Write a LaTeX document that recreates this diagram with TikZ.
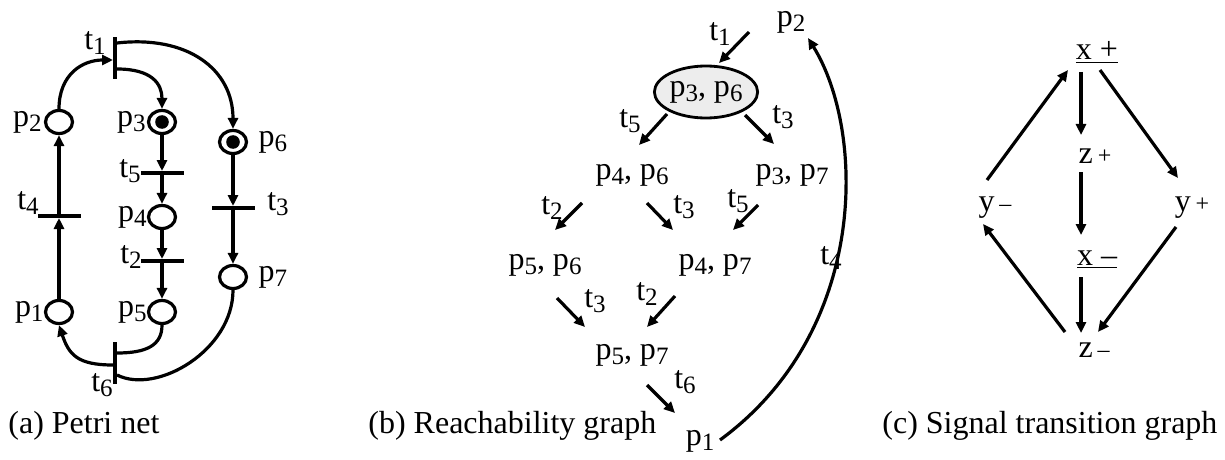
\documentclass[tikz,border=0pt]{standalone}
\usepackage{fontspec}
\setmainfont{Liberation Serif}
\usetikzlibrary{arrows.meta,positioning,shapes.geometric}
\newcommand{\idx}[1]{\raisebox{-0.16em}{\fontsize{12.5}{14}\selectfont #1}}
\newcommand{\plc}[1]{p\idx{#1}}
\newcommand{\trn}[1]{t\idx{#1}}
\newcommand{\sgn}[1]{\hspace{-0.1em}{\fontsize{12}{14}\selectfont #1}}
\tikzset{
    place/.style={ellipse,draw,line width=1.6pt,minimum width=13.5pt,minimum height=11.5pt,inner sep=0pt},
    marked/.style={place,path picture={\fill (path picture bounding box.center) circle (3.4pt);}},
    vbar/.style={rectangle,fill,inner sep=0pt,minimum width=1.6pt,minimum height=21pt},
    hbar/.style={rectangle,fill,inner sep=0pt,minimum width=21.5pt,minimum height=1.6pt},
    lab/.style={inner sep=0pt},
    state/.style={inner sep=0pt},
    initstate/.style={ellipse,draw,line width=1.4pt,fill=black!7,minimum width=44pt,minimum height=26pt,inner sep=0pt},
    signal/.style={inner sep=0pt,anchor=base},
    caption/.style={inner sep=0pt,anchor=base west},
    arc/.style={-{Triangle[length=5.5pt,width=5pt]},line width=1.6pt},
    plainarc/.style={line width=1.6pt}
}
\begin{document}
\begin{tikzpicture}[x=0.5pt,y=-0.5pt,font=\fontsize{16}{19}\selectfont]
    \useasboundingbox (0,0) rectangle (1225,460);
    % (a) Petri net
    \node[vbar] (t1) at (115,58) {};
    \node[place] (p2) at (59,122) {};
    \node[marked] (p3) at (162,122) {};
    \node[marked] (p6) at (233,142) {};
    \node[hbar] (t5) at (162,173) {};
    \node[place] (p4) at (162,217) {};
    \node[hbar] (t4) at (59,216) {};
    \node[hbar] (t3) at (233,208) {};
    \node[hbar] (t2) at (162,261) {};
    \node[place] (p7) at (233,277) {};
    \node[place] (p1) at (59,312) {};
    \node[place] (p5) at (162,312) {};
    \node[vbar] (t6) at (115,363) {};
    \node[lab,left=1pt of p2] (p2l) {\plc{2}};
    \node[lab,left=0.5pt of p3] (p3l) {\plc{3}};
    \node[lab,right=5pt of p6] (p6l) {\plc{6}};
    \node[lab,left=0pt of p4] (p4l) {\plc{4}};
    \node[lab,left=0pt of p5] (p5l) {\plc{5}};
    \node[lab,left=0pt of p1] (p1l) {\plc{1}};
    \node[lab,right=5pt of p7] (p7l) {\plc{7}};
    \node[lab] (t1l) at (95,43) {\trn{1}};
    \node[lab] (t5l) at (130,171) {\trn{5}};
    \node[lab] (t4l) at (28,203) {\trn{4}};
    \node[lab] (t3l) at (278,204) {\trn{3}};
    \node[lab] (t2l) at (131,257) {\trn{2}};
    \node[lab] (t6l) at (102,385) {\trn{6}};
    \draw[arc] (p2.north) .. controls +(0,-35) and +(-30,0) .. ([yshift=-1pt]t1.west);
    \draw[arc] ([yshift=7.5pt]t1.east) .. controls +(70,-8) and +(0,-60) .. (p6.north);
    \draw[arc] ([yshift=-5.5pt]t1.east) .. controls +(35,0) and +(0,-25) .. (p3.north);
    \draw[arc] (p3) -- (t5);
    \draw[arc] (t5) -- (p4);
    \draw[arc] (p4) -- (t2);
    \draw[arc] (t2) -- (p5);
    \draw[arc] (p6) -- (t3);
    \draw[arc] (t3) -- (p7);
    \draw[arc] (p1) -- (t4);
    \draw[arc] (t4) -- (p2);
    \draw[plainarc] (p5.south) .. controls +(0,20) and +(30,0) .. ([yshift=5pt]t6.east);
    \draw[arc] ([yshift=-1pt]t6.west) .. controls +(-35,0) and +(10,30) .. (p1.south);
    \draw[plainarc] ([yshift=-6pt]t6.east) .. controls +(40,20) and +(0,60) .. (p7.south);
    \node[caption] (capa) at (8,433) {(a) Petri net};
    % (b) Reachability graph
    \coordinate (init) at (749,32);
    \node[initstate] (m36) at (706,92) {\plc{3}, \plc{6}};
    \node[state] (m46) at (632,175) {\plc{4}, \plc{6}};
    \node[state] (m37) at (792,175) {\plc{3}, \plc{7}};
    \node[state] (m56) at (545,265) {\plc{5}, \plc{6}};
    \node[state] (m47) at (715,265) {\plc{4}, \plc{7}};
    \node[state] (m57) at (632,355) {\plc{5}, \plc{7}};
    \node[state] (rp1) at (700,441) {\plc{1}};
    \node[state] (rp2) at (791,22) {\plc{2}};
    \node[lab] (r1l) at (720,34) {\trn{1}};
    \node[lab] (r2l) at (630,121) {\trn{5}};
    \node[lab] (r3l) at (783,117) {\trn{3}};
    \node[lab] (r4l) at (552,208) {\trn{2}};
    \node[lab] (r5l) at (684,207) {\trn{3}};
    \node[lab] (r6l) at (738,201) {\trn{5}};
    \node[lab] (r7l) at (595,301) {\trn{3}};
    \node[lab] (r8l) at (647,294) {\trn{2}};
    \node[lab] (r9l) at (685,382) {\trn{6}};
    \node[lab] (r10l) at (831,258) {\trn{4}};
    \draw[arc] (init) -- ([shift={(13,-29)}]m36.center);
    \draw[arc] ([shift={(-39,22)}]m36.center) -- ([shift={(7,-30)}]m46.center);
    \draw[arc] ([shift={(39,23)}]m36.center) -- ([shift={(-18,-31)}]m37.center);
    \draw[arc] ([shift={(-50,28)}]m46.center) -- ([shift={(10,-35)}]m56.center);
    \draw[arc] ([shift={(15,28)}]m46.center) -- ([shift={(-42,-35)}]m47.center);
    \draw[arc] ([shift={(-34,30)}]m37.center) -- ([shift={(18,-35)}]m47.center);
    \draw[arc] ([shift={(12,33)}]m56.center) -- ([shift={(-47,-28)}]m57.center);
    \draw[arc] ([shift={(-40,31)}]m47.center) -- ([shift={(15,-28)}]m57.center);
    \draw[arc] ([shift={(15,30)}]m57.center) -- ([shift={(-25,-28)}]rp1.center);
    \draw[arc] ([shift={(20,-1)}]rp1.center) .. controls +(150,-110) and +(57,92) .. ([shift={(17,16)}]rp2.center);
    \node[caption] (capb) at (368,433) {(b) Reachability graph};
    % (c) Signal transition graph
    \node[signal] (xp) at (1097,60) {\underline{x +}};
    \node[signal] (zp) at (1095,163) {z \sgn{+}};
    \node[signal] (ym) at (995,211) {y \sgn{–}};
    \node[signal] (yp) at (1192,211) {y \sgn{+}};
    \node[signal] (xm) at (1097,265) {\underline{x –}};
    \node[signal] (zm) at (1094,357) {z \sgn{–}};
    \draw[arc] ([shift={(-16,12)}]xp.base) -- ([shift={(-14,-28)}]zp.base);
    \draw[arc] ([shift={(-14,9)}]zp.base) -- ([shift={(-16,-30)}]xm.base);
    \draw[arc] ([shift={(-16,12)}]xm.base) -- ([shift={(-13,-24)}]zm.base);
    \draw[arc] ([shift={(-8,-31)}]ym.base) -- ([shift={(-29,10)}]xp.base);
    \draw[arc] ([shift={(3,10)}]xp.base) -- ([shift={(-14,-33)}]yp.base);
    \draw[arc] ([shift={(-16,16)}]yp.base) -- ([shift={(4,-25)}]zm.base);
    \draw[arc] ([shift={(-29,-25)}]zm.base) -- ([shift={(-12,13)}]ym.base);
    \node[caption] (capc) at (882,433) {(c) Signal transition graph};
\end{tikzpicture}
\end{document}
